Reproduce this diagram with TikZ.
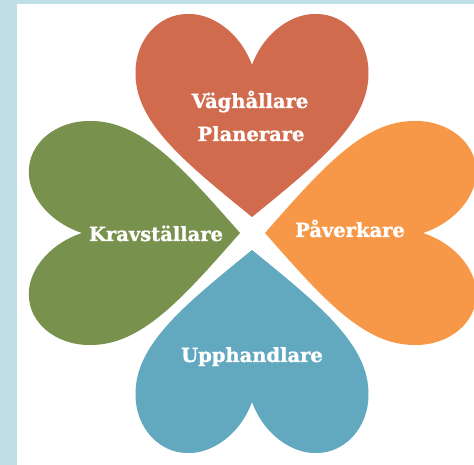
\documentclass[tikz,border=0pt]{standalone}
\usepackage{fontspec}
\setmainfont{DejaVu Serif}[BoldFeatures={FakeBold=1.2}]

\definecolor{vframe}{RGB}{192,222,229}
\definecolor{vred}{RGB}{209,107,77}
\definecolor{vorange}{RGB}{247,151,72}
\definecolor{vgreen}{RGB}{120,145,77}
\definecolor{vblue}{RGB}{98,169,192}

\tikzset{
  leaf/.pic={
    \fill[#1] (0,0) .. controls (65,55) and (113,95) .. (112,145)
      .. controls (112,177) and (90,203) .. (62,203)
      .. controls (40,204) and (12,186) .. (0,152)
      .. controls (-12,186) and (-40,204) .. (-62,203)
      .. controls (-90,203) and (-112,177) .. (-112,145)
      .. controls (-113,95) and (-65,55) .. (0,0) -- cycle;
  },
  word/.style={text=white, font=\bfseries\fontsize{19.5}{23}\selectfont, inner sep=0pt, anchor=base}
}

\begin{document}
\begin{tikzpicture}[x=1pt,y=1pt]
\useasboundingbox (0,0) rectangle (474,465);
\fill[vframe] (0,0) rectangle (474,465);
\fill[white] (17,0) rectangle (474,461);
\begin{scope}
\clip (17,0) rectangle (474,461);
\pic[xscale=1.04] at (252,248) {leaf=vred};
\pic[rotate=180,xscale=1.04] at (252,215) {leaf=vblue};
\pic[rotate=90,yscale=1.04] at (240,232) {leaf=vgreen};
\pic[rotate=-90,yscale=1.04] at (265,232) {leaf=vorange};
\end{scope}
\node[word] (vag) at (250,357) {Väghållare};
\node[word] (plan) at (251,324) {Planerare};
\node[word] (krav) at (156,224) {Kravställare};
\node[word] (paverk) at (350,228) {Påverkare};
\node[word] (upph) at (252,103) {Upphandlare};
\end{tikzpicture}
\end{document}
